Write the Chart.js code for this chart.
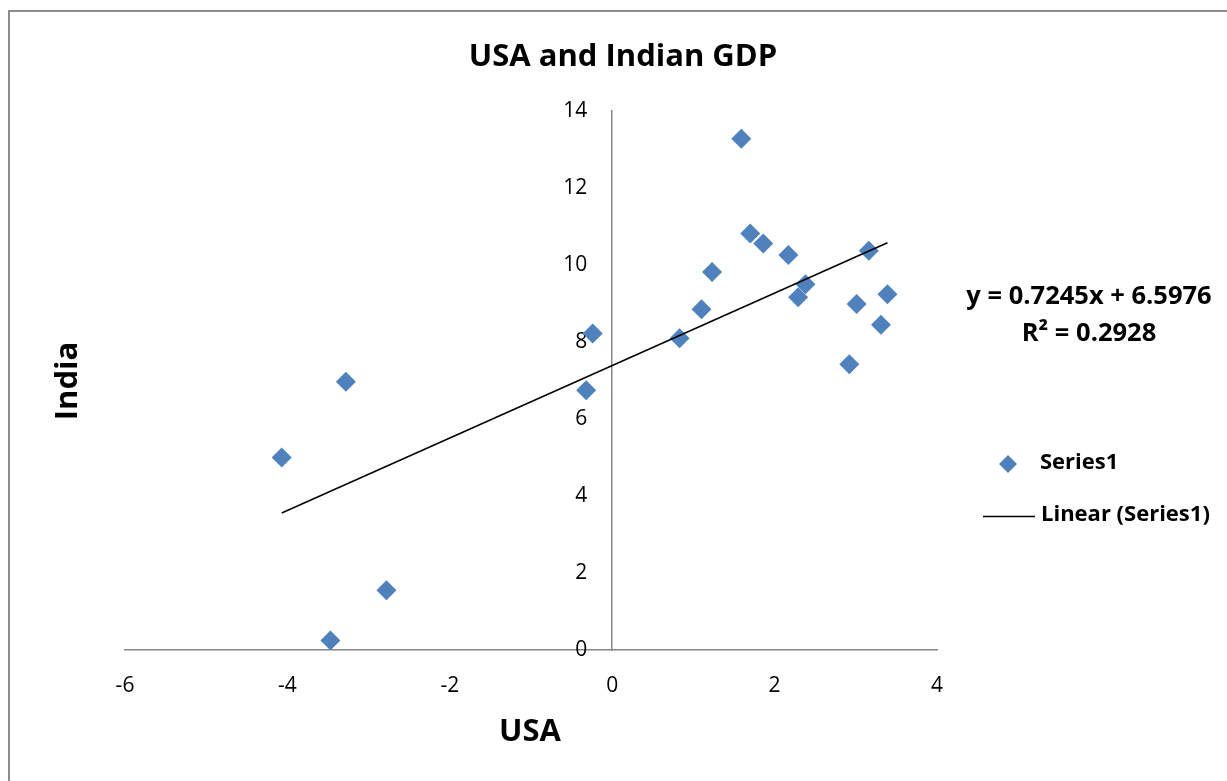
<!DOCTYPE html>
<html>
<head>
<meta charset="utf-8">
<script src="https://cdn.jsdelivr.net/npm/chart.js@4.4.1/dist/chart.umd.min.js"></script>
<style>
  html, body { margin: 0; padding: 0; background: #ffffff; overflow: hidden; }
  #wrap { position: relative; width: 1227px; height: 781px; }
</style>
</head>
<body>
<div id="wrap"><canvas id="gdp" width="1227" height="781"></canvas></div>
<script>
// Annual GDP growth (%), USA vs India, one point per year
const usaGrowth   = [-3.28, -0.24, -4.07, -2.78, -3.47, -0.32, 1.59, 1.70, 1.86, 2.17,
                     1.23, 2.38, 2.29, 3.16, 3.39, 3.01, 3.31, 2.92, 1.10, 0.83];
const indiaGrowth = [6.97, 8.22, 5.00, 1.55, 0.25, 6.75, 13.28, 10.82, 10.56, 10.26,
                     9.82, 9.50, 9.16, 10.37, 9.24, 8.99, 8.45, 7.42, 8.85, 8.10];

const xTicks = [-6, -4, -2, 0, 2, 4];
const yTicks = [0, 2, 4, 6, 8, 10, 12, 14];

const chartTitle = 'USA and Indian GDP';
const xTitle = 'USA';
const yTitle = 'India';
const seriesName = 'Series1';
const trendName = 'Linear (Series1)';
const trendEquation = 'y = 0.7245x + 6.5976';
const trendR2 = 'R\u00B2 = 0.2928';

// Least-squares trendline across the observed USA range
function linearFit(xs, ys) {
  const n = xs.length;
  const mx = xs.reduce((a, b) => a + b, 0) / n;
  const my = ys.reduce((a, b) => a + b, 0) / n;
  let sxy = 0, sxx = 0;
  for (let i = 0; i < n; i++) {
    sxy += (xs[i] - mx) * (ys[i] - my);
    sxx += (xs[i] - mx) * (xs[i] - mx);
  }
  const slope = sxy / sxx;
  return { slope, intercept: my - slope * mx };
}
const fit = linearFit(usaGrowth, indiaGrowth);
const xMinData = Math.min(...usaGrowth);
const xMaxData = Math.max(...usaGrowth);
const trendPoints = [xMinData, xMaxData].map(x => ({ x, y: fit.intercept + fit.slope * x }));

const scatterPoints = usaGrowth.map((x, i) => ({ x, y: indiaGrowth[i] }));

const FONT = '"Open Sans", Lato, "DejaVu Sans", sans-serif';
const BLUE = '#4F81BD';
const AXIS = '#868686';
const Y_LABEL_GAP = 25;   // space between the vertical axis line and its labels

const decorations = {
  id: 'decorations',
  afterDraw(chart) {
    const ctx = chart.ctx;
    ctx.save();

    // outer frame of the chart object
    ctx.strokeStyle = '#8c8c8c';
    ctx.lineWidth = 2;
    ctx.beginPath();
    ctx.moveTo(9, 790);
    ctx.lineTo(9, 11);
    ctx.lineTo(1240, 11);
    ctx.stroke();

    ctx.fillStyle = '#000';
    ctx.textAlign = 'center';
    ctx.textBaseline = 'middle';

    ctx.font = 'bold 31px ' + FONT;
    ctx.fillText(chartTitle, 623, 57);

    ctx.font = 'bold 31px ' + FONT;
    ctx.fillText(xTitle, 530, 732);

    ctx.save();
    ctx.translate(68, 381);
    ctx.rotate(-Math.PI / 2);
    ctx.fillText(yTitle, 0, 0);
    ctx.restore();

    // trendline equation
    ctx.font = 'bold 25.5px ' + FONT;
    ctx.fillText(trendEquation, 1089, 297);
    ctx.fillText(trendR2, 1089, 334);

    // legend
    ctx.textAlign = 'left';
    ctx.font = 'bold 22px ' + FONT;
    const dx = 1008, dy = 464, r = 9;
    ctx.fillStyle = BLUE;
    ctx.beginPath();
    ctx.moveTo(dx, dy - r);
    ctx.lineTo(dx + r, dy);
    ctx.lineTo(dx, dy + r);
    ctx.lineTo(dx - r, dy);
    ctx.closePath();
    ctx.fill();
    ctx.fillStyle = '#000';
    ctx.fillText(seriesName, 1040, 463);

    ctx.strokeStyle = '#000';
    ctx.lineWidth = 1.5;
    ctx.beginPath();
    ctx.moveTo(983, 516.5);
    ctx.lineTo(1035, 516.5);
    ctx.stroke();
    ctx.fillText(trendName, 1041, 515);

    ctx.restore();
  }
};

new Chart(document.getElementById('gdp'), {
  type: 'scatter',
  data: {
    datasets: [
      {
        label: seriesName,
        data: scatterPoints,
        pointStyle: 'rectRot',
        pointRadius: 10,
        pointHoverRadius: 10,
        backgroundColor: BLUE,
        borderColor: BLUE,
        borderWidth: 0,
        order: 2
      },
      {
        type: 'line',
        label: trendName,
        data: trendPoints,
        borderColor: '#000000',
        borderWidth: 1.5,
        pointRadius: 0,
        fill: false,
        tension: 0,
        order: 1
      }
    ]
  },
  options: {
    responsive: false,
    animation: false,
    devicePixelRatio: 1,
    layout: { padding: { left: 125, right: 290, top: 111, bottom: 0 } },
    plugins: {
      legend: { display: false },
      title: { display: false },
      tooltip: { enabled: false }
    },
    scales: {
      x: {
        type: 'linear',
        position: 'bottom',
        min: -6,
        max: 4,
        afterBuildTicks: s => { s.ticks = xTicks.map(v => ({ value: v })); },
        afterFit: s => { s.height = 781 - 650; },
        grid: { display: false, drawTicks: false },
        border: { display: true, color: AXIS, width: 1.5 },
        ticks: { color: '#000', font: { family: FONT, size: 21 }, padding: 23.5 }
      },
      y: {
        type: 'linear',
        position: { x: 0 },
        min: 0,
        max: 14,
        afterBuildTicks: s => { s.ticks = yTicks.map(v => ({ value: v })); },
        afterFit: s => { s.width = 0; },
        // labels of an axis crossing at x = 0 sit flush on the line; set them off to the left
        afterUpdate: s => {
          if (s._labelsShifted) return;
          s._labelsShifted = true;
          const draw = s.drawLabels;
          s.drawLabels = function (area) {
            const ctx = this.ctx;
            ctx.save();
            ctx.translate(-Y_LABEL_GAP, 0);
            draw.call(this, area);
            ctx.restore();
          };
        },
        grid: { display: false, drawTicks: false },
        border: { display: true, color: AXIS, width: 1.5 },
        ticks: { color: '#000', font: { family: FONT, size: 21 }, padding: 0 }
      }
    }
  },
  plugins: [decorations]
});
</script>
</body>
</html>
